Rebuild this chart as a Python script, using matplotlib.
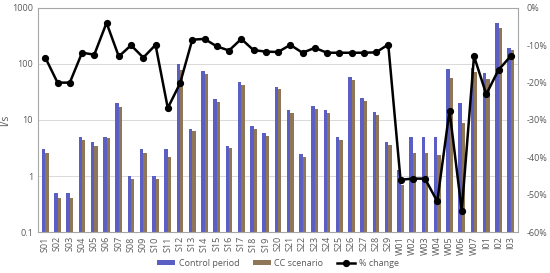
import matplotlib
matplotlib.use("Agg")
import matplotlib.pyplot as plt
import numpy as np
from matplotlib.ticker import FixedLocator, NullLocator

plt.rcParams['font.family'] = ['Open Sans', 'DejaVu Sans']

categories = [f"S{i:02d}" for i in range(1, 30)] + [f"W{i:02d}" for i in range(1, 8)] + ["I01", "I02", "I03"]

control = [3.0, 0.5, 0.5, 5.0, 4.0, 5.0, 20, 1.0, 3.0, 1.0, 3.0, 100,
           7.0, 76, 24, 3.5, 47, 7.9, 5.9, 39, 15, 2.5, 17.8, 15, 5.0, 59, 25, 14, 4.0,
           1.3, 5.0, 5.0, 5.0, 80, 20, 84,
           68, 535, 196]
cc = [2.6, 0.4, 0.4, 4.4, 3.5, 4.8, 17, 0.9, 2.6, 0.9, 2.2, 78,
      6.3, 67, 21, 3.1, 42, 7.0, 5.2, 35, 13.3, 2.2, 15.7, 13.1, 4.4, 52, 22, 12.3, 3.6,
      0.69, 2.6, 2.6, 2.4, 57, 8.9, 73,
      53, 437, 178]
pct_change = [-13.3, -20, -20, -12, -12.5, -4, -13, -10, -13.3, -9.9, -26.8, -20.2,
              -8.5, -8.3, -10.3, -11.4, -8.3, -11.3, -11.7, -11.8, -9.9, -12, -10.7, -12, -12, -12, -12, -11.9, -9.8,
              -46, -45.7, -45.7, -51.8, -27.5, -54.3, -12.9,
              -23.1, -16.6, -12.9]

fig = plt.figure(figsize=(5.5, 2.73), dpi=100)
ax = fig.add_axes([0.069, 0.15, 0.873, 0.821])
x = np.arange(len(categories))
w = 0.27
ax.bar(x - w / 2, control, width=w, color='#5b5fc4', label='Control period', zorder=2)
ax.bar(x + w / 2, cc, width=w, color='#8f7657', label='CC scenario', zorder=2)
ax.set_yscale('log')
ax.set_ylim(0.1, 1000)
ax.set_xlim(-0.6, len(categories) - 0.4)
ax.yaxis.set_major_locator(FixedLocator([0.1, 1, 10, 100, 1000]))
ax.yaxis.set_minor_locator(NullLocator())
ax.set_yticklabels(['0.1', '1', '10', '100', '1000'])
ax.grid(axis='y', color='#d9d9d9', linewidth=0.7, zorder=0)
ax.set_xticks(x)
ax.set_xticklabels(categories, rotation=90)
ax.tick_params(axis='both', length=0, labelsize=6.5, colors='#595959')
ax.tick_params(axis='x', pad=3)
ax.set_ylabel('l/s', fontsize=7.5, color='#595959')
ax.yaxis.set_label_coords(-0.055, 0.5)
for s in ax.spines.values():
    s.set_color('#a6a6a6')
    s.set_linewidth(0.8)

ax2 = ax.twinx()
ax2.plot(x, pct_change, color='black', linewidth=1.8, marker='o', markersize=4.2,
         label='% change', zorder=3)
ax2.set_ylim(-60, 0)
ax2.set_yticks(np.arange(-60, 1, 10))
ax2.set_yticklabels([f"{v}%" for v in range(-60, 1, 10)])
ax2.tick_params(axis='y', length=0, labelsize=6.5, colors='#595959', pad=6)
for s in ax2.spines.values():
    s.set_visible(False)

h1, l1 = ax.get_legend_handles_labels()
h2, l2 = ax2.get_legend_handles_labels()
fig.legend(h1 + h2, l1 + l2, loc='lower center', bbox_to_anchor=(0.505, -0.01), ncol=3,
           frameon=False, fontsize=6.5, labelcolor='#595959', handlelength=2.0,
           handleheight=0.5, columnspacing=1.5, handletextpad=0.4)

fig.savefig('out.png', dpi=100)
